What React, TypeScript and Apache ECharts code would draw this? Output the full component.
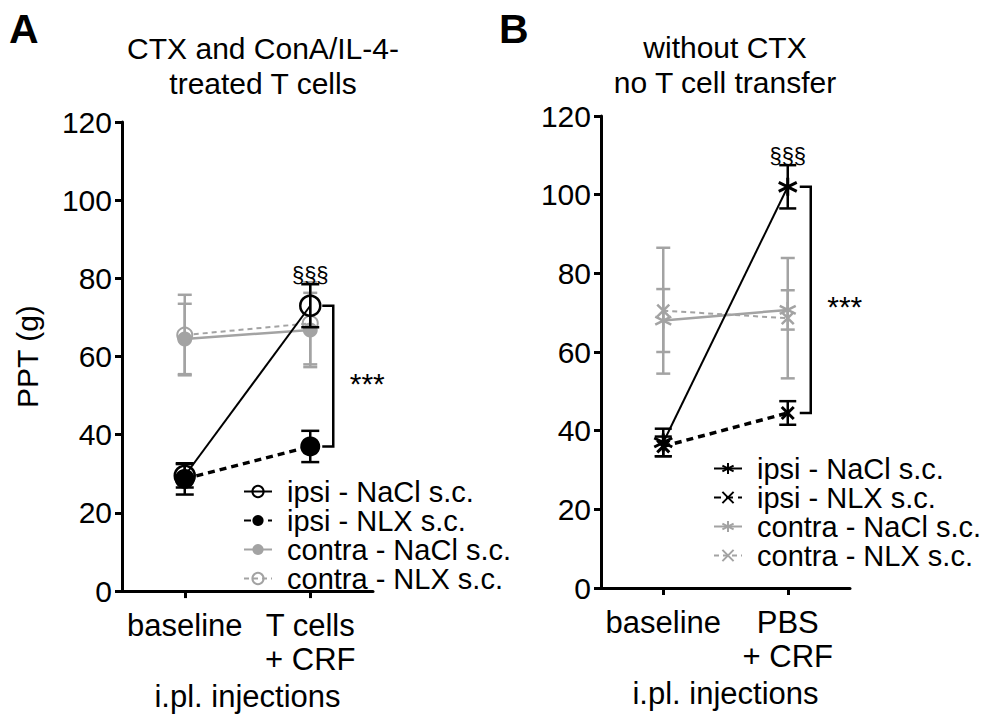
import React, { useEffect, useRef } from 'react';
import * as echarts from 'echarts';

// ---------- data ----------
const categoriesA = ['baseline', 'T cells\n+ CRF'];
const categoriesB = ['baseline', 'PBS\n+ CRF'];
const yTicks = [0, 20, 40, 60, 80, 100, 120];

const seriesNames = ['ipsi - NaCl s.c.', 'ipsi - NLX s.c.', 'contra - NaCl s.c.', 'contra - NLX s.c.'];

// Panel A
const ipsiNaClA = [29.5, 73];
const ipsiNaClA_sem = [3, 5.5];
const ipsiNlxA = [28.7, 37];
const ipsiNlxA_sem = [4, 4];
const contraNaClA = [64.5, 66.8];
const contraNaClA_sem = [9, 9.5];
const contraNlxA = [65.5, 68.5];
const contraNlxA_sem = [10.3, 10.5];

// Panel B
const ipsiNaClB = [37, 102];
const ipsiNaClB_sem = [3.5, 5.5];
const ipsiNlxB = [36, 44.5];
const ipsiNlxB_sem = [2.5, 3];
const contraNaClB = [68, 70.7];
const contraNaClB_sem = [8, 5];
const contraNlxB = [70.5, 68.6];
const contraNlxB_sem = [16, 15.3];

// significance annotations: [category index, top value, bottom value]
const bracketA = [1, 73, 37];
const bracketB = [1, 102, 44.5];
const sigSection = '§§§';
const sigStars = '***';

const FF = '"Liberation Sans", Arial, Helvetica, sans-serif';
const BLACK = '#000';
const GRAY = '#a3a3a3';
const FS = 31;
const LEG_FS = 29;

const ASTERISK = 'path://M0,-10 L0,10 M-8.66,-5 L8.66,5 M-8.66,5 L8.66,-5';
const CROSS = 'path://M-7,-7 L7,7 M-7,7 L7,-7';

function lineSeries(name: string, panel: number, values: number[], opts: any) {
  return {
    type: 'line',
    name: panel === 0 ? name : 'B:' + name,
    xAxisIndex: panel,
    yAxisIndex: panel,
    data: values.map((v, k) => [k, v]),
    symbol: opts.symbol,
    symbolSize: opts.symbolSize,
    lineStyle: { color: opts.color, width: opts.width, type: opts.dash ? opts.dash : 'solid' },
    itemStyle: opts.itemStyle,
    z: opts.z,
    silent: true,
  };
}

function errorSeries(panel: number, values: number[], sem: number[], color: string, capHalf: number, z: number) {
  return {
    type: 'custom',
    xAxisIndex: panel,
    yAxisIndex: panel,
    silent: true,
    z,
    data: values.map((v, k) => [k, v - sem[k], v + sem[k]]),
    encode: { x: 0, y: [1, 2] },
    renderItem: (params: any, api: any) => {
      const x = api.value(0);
      const lo = api.coord([x, api.value(1)]);
      const hi = api.coord([x, api.value(2)]);
      const st = { stroke: color, lineWidth: 2.5 };
      return {
        type: 'group',
        children: [
          { type: 'line', shape: { x1: lo[0], y1: lo[1], x2: hi[0], y2: hi[1] }, style: st },
          { type: 'line', shape: { x1: lo[0] - capHalf, y1: lo[1], x2: lo[0] + capHalf, y2: lo[1] }, style: st },
          { type: 'line', shape: { x1: hi[0] - capHalf, y1: hi[1], x2: hi[0] + capHalf, y2: hi[1] }, style: st },
        ],
      };
    },
  };
}

function annotationSeries(panel: number, bracket: number[]) {
  return {
    type: 'custom',
    xAxisIndex: panel,
    yAxisIndex: panel,
    silent: true,
    z: 10,
    data: [bracket],
    encode: { x: 0, y: [1, 2] },
    renderItem: (params: any, api: any) => {
      const x = api.value(0);
      const top = api.coord([x, api.value(1)]);
      const bot = api.coord([x, api.value(2)]);
      const mid = api.coord([x, (api.value(1) + api.value(2)) / 2]);
      const bx = top[0] + 23;
      return {
        type: 'group',
        children: [
          {
            type: 'polyline',
            shape: { points: [[top[0] + 12, top[1]], [bx, top[1]], [bx, bot[1]], [bot[0] + 12, bot[1]]] },
            style: { stroke: BLACK, lineWidth: 2.5, fill: 'none' },
          },
          {
            type: 'text',
            x: top[0] + 57,
            y: mid[1] + 7,
            style: { text: sigStars, font: `30px ${FF}`, fill: BLACK, align: 'center', verticalAlign: 'middle' },
          },
          {
            type: 'text',
            x: top[0],
            y: top[1] - 31,
            style: { text: sigSection, font: `22px ${FF}`, fill: BLACK, align: 'center', verticalAlign: 'middle' },
          },
        ],
      };
    },
  };
}

function xAxis(panel: number, cats: string[]) {
  return {
    type: 'value',
    gridIndex: panel,
    min: -0.5,
    max: 1.5,
    name: 'i.pl. injections',
    nameLocation: 'middle',
    nameGap: 86,
    nameTextStyle: { fontFamily: FF, fontSize: FS, color: BLACK },
    axisLine: { onZero: false, lineStyle: { color: BLACK, width: 3 } },
    axisTick: { show: true, length: 7, lineStyle: { color: BLACK, width: 3 }, customValues: [0, 1] },
    axisLabel: {
      customValues: [0, 1],
      formatter: (v: number) => cats[Math.round(v)],
      fontFamily: FF,
      fontSize: FS,
      color: BLACK,
      lineHeight: 34,
      margin: 17,
    },
    splitLine: { show: false },
  };
}

function yAxis(panel: number, withName: boolean) {
  return {
    type: 'value',
    gridIndex: panel,
    min: yTicks[0],
    max: yTicks[yTicks.length - 1],
    interval: 20,
    name: withName ? 'PPT (g)' : '',
    nameLocation: 'middle',
    nameGap: 80,
    nameTextStyle: { fontFamily: FF, fontSize: 30, color: BLACK },
    axisLine: { show: true, onZero: false, lineStyle: { color: BLACK, width: 3 } },
    axisTick: { show: true, length: 7, lineStyle: { color: BLACK, width: 3 } },
    axisLabel: { fontFamily: FF, fontSize: 30, color: BLACK, margin: 10 },
    splitLine: { show: false },
  };
}

function legend(panel: number, left: number, top: number) {
  return {
    left,
    top,
    padding: 0,
    orient: 'vertical',
    itemWidth: 28,
    itemHeight: 14,
    itemGap: 0,
    selectedMode: false,
    data: seriesNames.map((n) => (panel === 0 ? n : 'B:' + n)),
    formatter: (n: string) => n.replace(/^B:/, ''),
    textStyle: { fontFamily: FF, fontSize: LEG_FS, color: BLACK, lineHeight: 29, padding: [0, 0, 0, 10] },
  };
}

export default function App() {
  const ref = useRef<HTMLDivElement>(null);
  useEffect(() => {
    if (!ref.current) return;
    const chart = echarts.init(ref.current, undefined, { renderer: 'svg' });
    const option: any = {
      animation: false,
      backgroundColor: '#fff',
      title: [
        { text: 'A', left: 4, top: 3, textStyle: { fontFamily: FF, fontSize: 41, fontWeight: 'bold', color: BLACK } },
        { text: 'B', left: 494, top: 3, textStyle: { fontFamily: FF, fontSize: 41, fontWeight: 'bold', color: BLACK } },
        {
          text: 'CTX and ConA/IL-4-\ntreated T cells',
          left: 258,
          top: 26,
          textAlign: 'center',
          textStyle: { fontFamily: FF, fontSize: 30, fontWeight: 'normal', color: BLACK, lineHeight: 35 },
        },
        {
          text: 'without CTX\nno T cell transfer',
          left: 720,
          top: 25,
          textAlign: 'center',
          textStyle: { fontFamily: FF, fontSize: 30, fontWeight: 'normal', color: BLACK, lineHeight: 35 },
        },
      ],
      grid: [
        { left: 122, top: 122, width: 251, height: 472 },
        { left: 601, top: 116, width: 249, height: 472 },
      ],
      xAxis: [xAxis(0, categoriesA), xAxis(1, categoriesB)],
      yAxis: [yAxis(0, true), yAxis(1, false)],
      legend: [legend(0, 243, 477), legend(1, 713, 454)],
      series: [
        // Panel A - gray first
        errorSeries(0, contraNaClA, contraNaClA_sem, GRAY, 7, 2),
        errorSeries(0, contraNlxA, contraNlxA_sem, GRAY, 7, 2),
        lineSeries(seriesNames[2], 0, contraNaClA, {
          symbol: 'circle', symbolSize: 15, color: GRAY, width: 2.5,
          itemStyle: { color: GRAY }, z: 3,
        }),
        lineSeries(seriesNames[3], 0, contraNlxA, {
          symbol: 'circle', symbolSize: 15, color: GRAY, width: 2, dash: [5, 4],
          itemStyle: { color: 'rgba(255,255,255,0)', borderColor: GRAY, borderWidth: 2 }, z: 3,
        }),
        errorSeries(0, ipsiNaClA, ipsiNaClA_sem, BLACK, 9, 4),
        errorSeries(0, ipsiNlxA, ipsiNlxA_sem, BLACK, 9, 4),
        lineSeries(seriesNames[0], 0, ipsiNaClA, {
          symbol: 'circle', symbolSize: 20, color: BLACK, width: 2,
          itemStyle: { color: 'rgba(255,255,255,0)', borderColor: BLACK, borderWidth: 2.5 }, z: 5,
        }),
        lineSeries(seriesNames[1], 0, ipsiNlxA, {
          symbol: 'circle', symbolSize: 20, color: BLACK, width: 3.5, dash: [7, 5],
          itemStyle: { color: BLACK }, z: 5,
        }),
        annotationSeries(0, bracketA),

        // Panel B
        errorSeries(1, contraNaClB, contraNaClB_sem, GRAY, 7, 2),
        errorSeries(1, contraNlxB, contraNlxB_sem, GRAY, 7, 2),
        lineSeries(seriesNames[2], 1, contraNaClB, {
          symbol: ASTERISK, symbolSize: 16, color: GRAY, width: 2.5,
          itemStyle: { color: GRAY, borderColor: GRAY, borderWidth: 2.5 }, z: 3,
        }),
        lineSeries(seriesNames[3], 1, contraNlxB, {
          symbol: CROSS, symbolSize: 12, color: GRAY, width: 2, dash: [5, 4],
          itemStyle: { color: GRAY, borderColor: GRAY, borderWidth: 2.5 }, z: 3,
        }),
        errorSeries(1, ipsiNaClB, ipsiNaClB_sem, BLACK, 8.5, 4),
        errorSeries(1, ipsiNlxB, ipsiNlxB_sem, BLACK, 8.5, 4),
        lineSeries(seriesNames[0], 1, ipsiNaClB, {
          symbol: ASTERISK, symbolSize: 18, color: BLACK, width: 2,
          itemStyle: { color: BLACK, borderColor: BLACK, borderWidth: 3 }, z: 5,
        }),
        lineSeries(seriesNames[1], 1, ipsiNlxB, {
          symbol: CROSS, symbolSize: 12, color: BLACK, width: 3.5, dash: [7, 5],
          itemStyle: { color: BLACK, borderColor: BLACK, borderWidth: 3 }, z: 5,
        }),
        annotationSeries(1, bracketB),
      ],
    };
    chart.setOption(option);
    return () => chart.dispose();
  }, []);
  return (
    <div
      ref={ref}
      style={{ position: 'fixed', left: 0, top: 0, width: 1004, height: 717, background: '#fff' }}
    />
  );
}
